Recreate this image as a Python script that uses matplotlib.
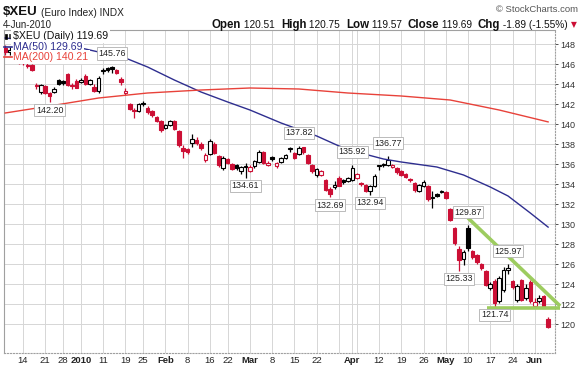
import matplotlib
matplotlib.use("Agg")
import matplotlib.pyplot as plt
from matplotlib.patches import Rectangle
from matplotlib.lines import Line2D
import pandas as pd

plt.rcParams['font.family'] = ['Liberation Sans', 'DejaVu Sans']

W, H = 582, 372

# ---------------- data ----------------
holidays = ["2009-12-25", "2010-01-01", "2010-01-18", "2010-02-15", "2010-04-02", "2010-05-31"]
dates = [d.strftime("%Y-%m-%d") for d in pd.bdate_range("2009-12-08", "2010-06-04")
         if d.strftime("%Y-%m-%d") not in holidays]

opens = [147.6, 147.2, 147.4, 147.0, 146.5, 145.9, 145.9, 143.9, 143.2, 143.8, 143.1, 143.2, 144.4, 144.3,
         145.0, 143.85, 144.3, 144.2, 144.8, 144.05, 143.7, 143.3, 145.3, 145.6, 145.7, 145.4, 144.5, 143.1,
         142.0, 141.4, 141.3, 142.05, 141.6, 141.3, 140.7, 140.3, 139.6, 139.9, 140.3, 139.3, 137.6, 137.5,
         138.1, 138.4, 138.0, 136.4, 137.0, 138.0, 136.8, 135.6, 136.5, 136.0, 135.9, 135.3, 135.75, 135.3,
         135.8, 136.2, 137.2, 135.9, 136.7, 135.8, 136.2, 136.6, 137.5, 137.1, 137.0, 137.7, 136.9, 135.9,
         134.9, 134.9, 134.4, 133.5, 133.7, 134.6, 134.4, 134.3, 134.4, 134.6, 134.1, 133.9, 133.3, 133.8,
         135.8, 136.0, 135.9, 135.7, 135.6, 135.3, 135.0, 134.5, 134.1, 133.3, 133.8, 133.8, 132.6, 133.0,
         133.2, 133.2, 131.5, 129.6, 127.5, 126.5, 129.6, 127.3, 126.9, 126.0, 125.3, 123.6, 124.3, 122.3,
         123.4, 125.4, 124.3, 122.4, 124.4, 122.6, 124.2, 121.8, 122.3, 122.8, 120.51]
highs = [147.9, 147.7, 147.6, 147.1, 146.7, 146.1, 146.0, 144.1, 144.0, 143.9, 143.2, 143.7, 144.5, 144.4,
         145.1, 144.1, 144.5, 144.6, 145.0, 144.5, 144.0, 144.8, 145.6, 145.7, 145.76, 145.5, 144.7, 143.6,
         142.1, 141.6, 142.1, 142.3, 141.8, 141.4, 140.8, 140.4, 140.0, 140.4, 140.4, 139.4, 137.9, 137.6,
         139.0, 138.7, 138.2, 137.1, 138.5, 138.2, 136.9, 136.8, 136.6, 136.1, 136.0, 135.8, 136.1, 135.9,
         136.4, 137.4, 137.3, 136.3, 136.8, 136.2, 136.7, 137.0, 137.7, 137.2, 137.82, 137.75, 137.0, 136.0,
         135.6, 135.4, 134.5, 133.7, 134.3, 134.8, 134.5, 134.7, 135.92, 135.1, 134.2, 134.0, 133.9, 135.0,
         135.9, 136.1, 136.77, 136.0, 135.7, 135.4, 135.1, 134.6, 134.2, 134.0, 134.4, 133.9, 133.3, 133.1,
         133.4, 133.3, 131.6, 129.7, 127.8, 127.4, 129.87, 127.4, 127.0, 126.1, 125.4, 124.2, 124.5, 124.8,
         125.7, 125.97, 124.4, 124.0, 124.5, 124.0, 124.4, 122.6, 122.9, 122.9, 120.75]
lows = [146.9, 146.9, 146.8, 146.0, 145.9, 145.6, 145.3, 143.5, 143.0, 143.0, 142.2, 143.1, 143.9, 143.9,
        143.8, 143.5, 143.6, 144.1, 143.9, 143.9, 143.2, 143.1, 145.0, 145.2, 145.1, 145.0, 143.9, 142.95,
        141.4, 140.6, 141.2, 141.8, 141.0, 140.7, 140.2, 139.2, 139.5, 139.8, 139.4, 137.7, 136.6, 137.0,
        137.7, 137.9, 137.4, 136.2, 136.9, 137.0, 135.7, 135.4, 136.0, 135.4, 135.4, 135.0, 134.61, 135.2,
        135.6, 136.1, 136.0, 135.8, 136.3, 135.6, 136.1, 136.5, 137.2, 136.5, 136.9, 137.0, 136.0, 135.1,
        134.7, 134.8, 133.3, 132.69, 133.5, 133.8, 134.0, 134.2, 134.3, 134.5, 133.8, 133.2, 132.94, 133.7,
        135.4, 135.7, 135.8, 135.6, 135.0, 134.8, 134.6, 134.2, 133.2, 133.2, 133.7, 132.3, 131.6, 132.7,
        133.1, 132.5, 130.3, 127.9, 125.33, 125.9, 127.3, 126.5, 126.0, 125.4, 123.8, 123.4, 121.74, 122.1,
        123.2, 125.0, 123.5, 122.2, 122.3, 122.4, 122.1, 121.75, 122.1, 121.76, 119.57]
closes = [147.2, 147.4, 147.0, 146.3, 146.2, 145.85, 145.45, 143.8, 143.9, 143.1, 142.8, 143.55, 144.0, 144.1,
          143.9, 143.8, 143.65, 144.45, 144.0, 144.4, 143.35, 144.6, 145.35, 145.45, 145.5, 145.1, 144.2, 143.3,
          141.5, 141.3, 142.0, 142.1, 141.2, 140.9, 140.3, 139.4, 139.9, 140.3, 139.5, 137.9, 137.3, 137.2,
          138.5, 138.1, 137.6, 136.9, 138.3, 137.1, 135.9, 136.6, 136.1, 135.5, 135.6, 135.7, 135.8, 135.7,
          136.3, 137.2, 136.1, 136.05, 136.5, 136.1, 136.6, 136.9, 137.55, 136.6, 137.6, 137.2, 136.1, 135.3,
          135.5, 135.3, 133.4, 133.0, 133.9, 133.85, 134.2, 134.6, 135.6, 135.0, 134.0, 133.3, 133.8, 134.8,
          135.85, 135.9, 136.4, 135.9, 135.2, 134.9, 134.7, 134.4, 133.4, 133.9, 134.2, 132.5, 132.7, 132.8,
          133.3, 132.6, 130.4, 128.1, 126.4, 127.2, 127.6, 126.7, 126.2, 125.6, 123.9, 124.0, 122.1, 124.6,
          125.4, 125.6, 123.7, 123.8, 122.4, 123.6, 122.3, 122.2, 122.6, 121.58, 119.69]

ma50_dates = ["2009-12-08", "2009-12-21", "2010-01-04", "2010-01-19", "2010-01-26", "2010-02-03",
              "2010-02-11", "2010-02-22", "2010-03-01", "2010-03-10", "2010-03-22", "2010-03-29",
              "2010-04-05", "2010-04-13", "2010-04-19", "2010-04-29", "2010-05-07", "2010-05-17",
              "2010-05-21", "2010-05-28", "2010-06-04"]
ma50_vals = [148.6, 148.2, 147.6, 146.6, 145.7, 144.4, 143.2, 142.2, 141.4, 140.1, 138.8, 137.8,
             137.2, 136.5, 136.2, 135.7, 134.9, 133.7, 132.8, 131.1, 129.69]

ma200_dates = ["2009-12-08", "2009-12-22", "2010-01-08", "2010-01-26", "2010-02-11", "2010-03-01",
               "2010-03-16", "2010-03-31", "2010-04-19", "2010-05-04", "2010-05-19", "2010-06-04"]
ma200_vals = [141.1, 141.8, 142.6, 143.1, 143.4, 143.6, 143.5, 143.1, 142.8, 142.4, 141.4, 140.21]

tick_dates = ["2009-12-14", "2009-12-21", "2009-12-28", "2010-01-04", "2010-01-11", "2010-01-19",
              "2010-01-25", "2010-02-01", "2010-02-08", "2010-02-16", "2010-02-22", "2010-03-01",
              "2010-03-08", "2010-03-15", "2010-03-22", "2010-03-29", "2010-04-01", "2010-04-05",
              "2010-04-12", "2010-04-19", "2010-04-26", "2010-05-03", "2010-05-10", "2010-05-17",
              "2010-05-24", "2010-06-01"]
tick_labels = ["14", "21", "28", "2010", "11", "19", "25", "Feb", "8", "16", "22", "Mar", "8", "15", "22",
               "", "Apr", "", "12", "19", "26", "May", "10", "17", "24", "Jun"]
bold_labels = ["2010", "Feb", "Mar", "Apr", "May", "Jun"]

mark_dates = ["2009-12-22", "2010-01-13", "2010-02-26", "2010-03-16", "2010-03-25", "2010-04-01",
              "2010-04-08", "2010-04-14", "2010-05-06", "2010-05-10", "2010-05-18", "2010-05-21"]
mark_vals = [142.20, 145.76, 134.61, 137.82, 132.69, 135.92, 132.94, 136.77, 125.33, 129.87, 121.74, 125.97]
mark_kind = ["low", "high", "low", "high", "low", "high", "low", "high", "low", "high", "low", "high"]

trend_down_vals = [130.6, 121.8]
trend_flat_vals = [121.6, 121.6]

# ---------------- figure ----------------
fig = plt.figure(figsize=(W / 100, H / 100), dpi=100)
fig.patch.set_facecolor("white")
ax = fig.add_axes([4 / W, 1 - 353 / H, (555 - 4) / W, (353 - 30) / H])

pos = {d: k for k, d in enumerate(dates)}
RED = "#cc0f35"
BLACK = "#000000"

for k in range(len(dates)):
    o, h, l, c = opens[k], highs[k], lows[k], closes[k]
    prev = closes[k - 1] if k > 0 else o
    col = RED if c < prev else BLACK
    filled = c < o
    ax.vlines(k, l, h, color=col, lw=0.9, zorder=3)
    bot = min(o, c)
    hgt = max(abs(c - o), 0.06)
    ax.add_patch(Rectangle((k - 0.4, bot), 0.8, hgt,
                           facecolor=col if filled else "white", edgecolor=col, lw=0.8, zorder=4))

ax.plot([pos[d] for d in ma50_dates], ma50_vals, color="#2e2e8f", lw=1.0, zorder=5)
ax.plot([pos[d] for d in ma200_dates], ma200_vals, color="#e8423a", lw=1.0, zorder=5)

# trend lines
last = pos[dates[-1]]
ax.plot([pos["2010-05-10"], last + 2.7], trend_down_vals, color="#9dcc5f", lw=2.6,
        solid_capstyle="butt", zorder=6, clip_on=False)
ax.plot([pos["2010-05-14"] + 0.3, last + 2.7], trend_flat_vals, color="#9dcc5f", lw=2.6,
        solid_capstyle="butt", zorder=6, clip_on=False)

for d, v, kd in zip(mark_dates, mark_vals, mark_kind):
    off = 13 if kd == "high" else -8
    ax.annotate(f"{v:.2f}", xy=(pos[d], v), xytext=(0, off * 0.72), textcoords="offset points",
                ha="center", va="center", fontsize=6.4, color="#222222", zorder=7,
                bbox=dict(boxstyle="square,pad=0.18", fc="white", ec="#b0b0b0", lw=0.6))

ax.set_xlim(-0.27, 123.55)
ax.set_ylim(117.1, 149.4)
ax.set_yticks(range(120, 149, 2))
ax.yaxis.tick_right()
ax.tick_params(axis="y", labelsize=6.5, colors="#333333", length=2, pad=2, width=0.6)
ax.set_xticks([pos[d] for d in tick_dates])
ax.set_xticklabels(tick_labels)
for t in ax.get_xticklabels():
    if t.get_text() in bold_labels:
        t.set_fontweight("bold")
ax.tick_params(axis="x", labelsize=6.8, colors="#222222", length=0, pad=2)
ax.grid(True, color="#d6d6d6", lw=0.7, zorder=0)
ax.set_axisbelow(True)
for s in ax.spines.values():
    s.set_color("#a0a0a0")
    s.set_linewidth(0.8)
ax.spines["right"].set_linestyle(":")
ax.spines["bottom"].set_linestyle(":")

# ---------------- header texts ----------------
renderer = fig.canvas.get_renderer()


def put(x, y, s, **kw):
    t = fig.text(x / W, 1 - y / H, s, va="center", ha="left", **kw)
    return x + t.get_window_extent(renderer=renderer).width


x = put(3, 12, r"\$XEU", fontsize=9.5, fontweight="bold", color="#111111")
put(x + 3, 12.5, "(Euro Index) INDX", fontsize=7.3, color="#222222")
fig.text(578 / W, 1 - 10 / H, "\u00a9 StockCharts.com", ha="right", va="center", fontsize=6.8, color="#555555")
put(3, 25, "4-Jun-2010", fontsize=7.0, color="#222222")

pieces = [("Open", True), (" 120.51  ", False), ("High", True), (" 120.75  ", False), ("Low", True),
          (" 119.57  ", False), ("Close", True), (" 119.69  ", False), ("Chg", True), (" -1.89 (-1.55%)", False)]
BFS, NFS = 8.3, 7.3
widths = []
for s, b in pieces:
    t = fig.text(0, 0, s, fontsize=BFS if b else NFS, fontweight="bold" if b else "normal")
    widths.append(t.get_window_extent(renderer=renderer).width)
    t.remove()
x = 568 - sum(widths)
for (s, b), w in zip(pieces, widths):
    put(x, 25, s, fontsize=BFS if b else NFS, fontweight="bold" if b else "normal", color="#111111")
    x += w
fig.text(574 / W, 1 - 25 / H, "\u25bc", ha="center", va="center", fontsize=5.5, color=RED,
         family="DejaVu Sans")

# ---------------- legend ----------------
bb = dict(boxstyle="square,pad=0.15", fc="white", ec="none")
put(13, 36, "\\$XEU (Daily) 119.69", fontsize=7.6, color="#111111", bbox=bb)
fig.add_artist(Rectangle((4.5 / W, 1 - 39 / H), 2 / W, 5 / H, transform=fig.transFigure,
                         fc="black", ec="black", lw=0.5, zorder=10))
fig.add_artist(Rectangle((8.5 / W, 1 - 38 / H), 2 / W, 4 / H, transform=fig.transFigure,
                         fc="white", ec="black", lw=0.5, zorder=10))
put(13, 46.5, "MA(50) 129.69", fontsize=7.6, color="#2e2e8f", bbox=bb)
put(13, 57, "MA(200) 140.21", fontsize=7.6, color="#e8423a", bbox=bb)
fig.add_artist(Line2D([4 / W, 12 / W], [1 - 46.5 / H, 1 - 46.5 / H], transform=fig.transFigure,
                      color="#2e2e8f", lw=1.2, zorder=10))
fig.add_artist(Line2D([4 / W, 12 / W], [1 - 57 / H, 1 - 57 / H], transform=fig.transFigure,
                      color="#e8423a", lw=1.2, zorder=10))

fig.savefig("out.png", dpi=100, facecolor="white")
